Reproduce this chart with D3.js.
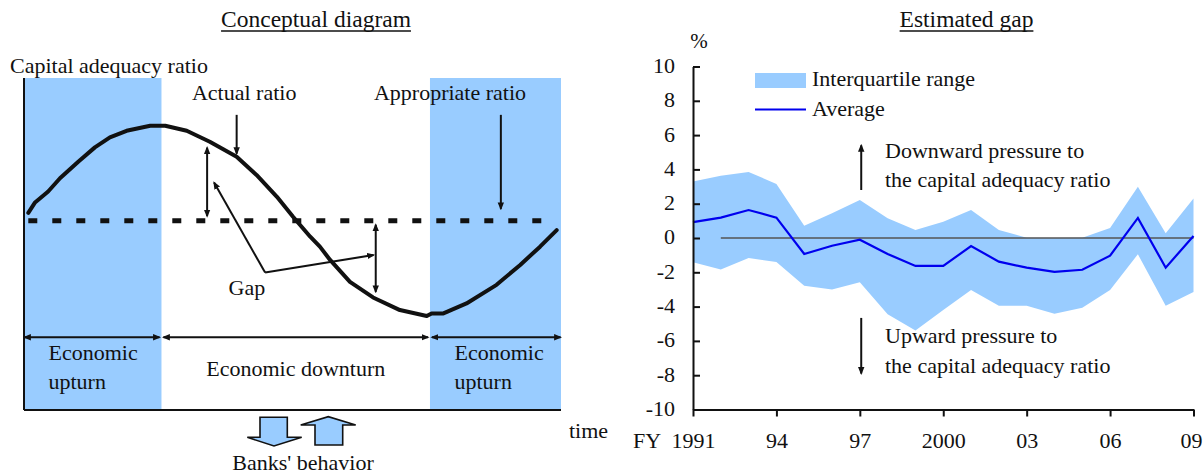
<!DOCTYPE html>
<html>
<head>
<meta charset="utf-8">
<script src="https://cdn.jsdelivr.net/npm/d3@7"></script>
<style>
  body { margin: 0; background: #fff; }
  svg { display: block; font-family: "Liberation Serif", "Times New Roman", serif; }
  text { fill: #111; }
</style>
</head>
<body>
<svg id="chart" width="1203" height="475"></svg>
<script>
// ---------- Conceptual diagram (schematic units: time 0–100, ratio 0–100) ----------
const cycleTime   = [0.8, 2.0, 4.5, 6.7, 10.1, 13.2, 16.0, 19.1, 23.5, 26.3, 30.3, 34.6, 39.6, 43.3, 47.1,
                     50.1, 53.3, 55.1, 57.0, 60.7, 65.0, 70.0, 75.0, 75.9, 78.1, 82.4, 88.0, 92.4, 96.1, 99.2];
const actualRatio = [59.4, 62.4, 65.8, 69.8, 74.8, 79.1, 82.1, 84.1, 85.6, 85.6, 84.1, 80.8, 76.3, 70.8, 64.2,
                     58.2, 52.2, 49.2, 45.2, 38.6, 33.9, 30.1, 28.3, 29.1, 29.1, 32.1, 37.7, 43.7, 49.2, 54.2];
const appropriateRatio = 57;
const phaseStart  = [0, 25.6, 75.6];
const phaseEnd    = [25.6, 75.6, 100];
const phaseShaded = [true, false, true];
const phaseLabels = [["Economic", "upturn"], ["Economic downturn"], ["Economic", "upturn"]];

// ---------- Estimated gap (%) ----------
const fiscalYears   = d3.range(1991, 2010);
const upperQuartile = [3.30, 3.63, 3.85, 3.15, 0.72, 1.44, 2.22, 1.15, 0.47, 0.95,
                       1.63, 0.47, 0.02, 0.00, 0.02, 0.58, 2.99, 0.27, 2.31];
const averageGap    = [0.93, 1.19, 1.63, 1.19, -0.93, -0.45, -0.10, -0.93, -1.63, -1.63,
                       -0.47, -1.38, -1.73, -1.98, -1.85, -1.03, 1.17, -1.73, 0.12];
const lowerQuartile = [-1.42, -1.83, -1.17, -1.40, -2.78, -3.01, -2.58, -4.45, -5.40, -4.20,
                       -3.03, -3.95, -3.95, -4.41, -4.06, -3.03, -0.95, -3.95, -3.15];
const yTickValues   = [10, 8, 6, 4, 2, 0, -2, -4, -6, -8, -10];
const xTickYears    = [1991, 1994, 1997, 2000, 2003, 2006, 2009];
const xTickLabels   = ["1991", "94", "97", "2000", "03", "06", "09"];

const BLUE_FILL = "#99ccff";
const svg = d3.select("#chart");

// arrowhead marker shared by all thin arrows
svg.append("defs").append("marker")
  .attr("id", "head")
  .attr("viewBox", "0 0 10 8")
  .attr("refX", 8).attr("refY", 4)
  .attr("markerWidth", 8).attr("markerHeight", 7)
  .attr("markerUnits", "userSpaceOnUse")
  .attr("orient", "auto-start-reverse")
  .append("path").attr("d", "M0,0 L10,4 L0,8 Z").attr("fill", "#111");

function underlinedTitle(x, y, txt) {
  const t = svg.append("text").attr("x", x).attr("y", y)
    .attr("text-anchor", "middle").attr("font-size", 23.5).text(txt);
  const w = t.node().getComputedTextLength();
  svg.append("line").attr("x1", x - w / 2).attr("x2", x + w / 2)
    .attr("y1", y + 4).attr("y2", y + 4)
    .attr("stroke", "#111").attr("stroke-width", 1.6);
}

// ======================= Left panel =======================
const tx = d3.scaleLinear().domain([0, 100]).range([24, 561]);
const ry = d3.scaleLinear().domain([0, 100]).range([410, 78]);
const L = svg.append("g");

underlinedTitle(316, 27, "Conceptual diagram");

// shaded upturn periods
phaseStart.forEach((s, i) => {
  if (!phaseShaded[i]) return;
  L.append("rect").attr("x", tx(s)).attr("y", ry(100))
    .attr("width", tx(phaseEnd[i]) - tx(s)).attr("height", ry(0) - ry(100))
    .attr("fill", BLUE_FILL);
});

// axes of the schematic
L.append("line").attr("x1", tx(0)).attr("x2", tx(0)).attr("y1", ry(100)).attr("y2", ry(0))
  .attr("stroke", "#111").attr("stroke-width", 2);
L.append("line").attr("x1", tx(0)).attr("x2", tx(100)).attr("y1", ry(0)).attr("y2", ry(0))
  .attr("stroke", "#111").attr("stroke-width", 2);

L.append("text").attr("x", 10).attr("y", 73).attr("font-size", 22).text("Capital adequacy ratio");

// appropriate ratio (dashed)
L.append("line").attr("x1", tx(0.8)).attr("x2", tx(96.5))
  .attr("y1", ry(appropriateRatio)).attr("y2", ry(appropriateRatio))
  .attr("stroke", "#111").attr("stroke-width", 5).attr("stroke-dasharray", "9,15");

// actual ratio curve
const cycle = cycleTime.map((t, i) => [t, actualRatio[i]]);
L.append("path").datum(cycle)
  .attr("d", d3.line().x(d => tx(d[0])).y(d => ry(d[1])))
  .attr("fill", "none").attr("stroke", "#111").attr("stroke-width", 4)
  .attr("stroke-linejoin", "round").attr("stroke-linecap", "round");

function arrow(g, x1, y1, x2, y2, both) {
  const l = g.append("line").attr("x1", x1).attr("y1", y1).attr("x2", x2).attr("y2", y2)
    .attr("stroke", "#111").attr("stroke-width", 2).attr("marker-end", "url(#head)");
  if (both) l.attr("marker-start", "url(#head)");
  return l;
}

// labels with pointer arrows
L.append("text").attr("x", tx(41)).attr("y", 100).attr("text-anchor", "middle")
  .attr("font-size", 22).text("Actual ratio");
arrow(L, tx(39.6), ry(88.9), tx(39.6), ry(77.2));
L.append("text").attr("x", 450).attr("y", 100).attr("text-anchor", "middle")
  .attr("font-size", 22).text("Appropriate ratio");
arrow(L, tx(88.8), ry(88.9), tx(88.8), ry(appropriateRatio + 3.6));

// gap measures
arrow(L, tx(34.1), ry(79.0), tx(34.1), ry(appropriateRatio + 1.4), true);
arrow(L, tx(65.5), ry(appropriateRatio - 1.2), tx(65.5), ry(35.6), true);
const gapVertex = [44.9, 41.4];
L.append("line").attr("x1", tx(gapVertex[0])).attr("y1", ry(gapVertex[1]))
  .attr("x2", tx(35.4)).attr("y2", ry(68.5))
  .attr("stroke", "#111").attr("stroke-width", 2).attr("marker-end", "url(#head)");
L.append("line").attr("x1", tx(gapVertex[0])).attr("y1", ry(gapVertex[1]))
  .attr("x2", tx(65.1)).attr("y2", ry(46.7))
  .attr("stroke", "#111").attr("stroke-width", 2).attr("marker-end", "url(#head)");
L.append("text").attr("x", tx(41.5)).attr("y", 295).attr("text-anchor", "middle")
  .attr("font-size", 22).text("Gap");

// business-cycle phases
const phaseY = ry(21.9);
phaseStart.forEach((s, i) => {
  arrow(L, tx(s) + (i === 0 ? 0.5 : 2), phaseY, tx(phaseEnd[i]) - (i === 2 ? 0.5 : 2), phaseY, true);
  const lines = phaseLabels[i];
  if (lines.length === 1) {
    L.append("text").attr("x", (tx(s) + tx(phaseEnd[i])) / 2).attr("y", 376)
      .attr("text-anchor", "middle").attr("font-size", 22).text(lines[0]);
  } else {
    lines.forEach((ln, j) => {
      L.append("text").attr("x", tx(s) + 24.5).attr("y", 360 + j * 29)
        .attr("font-size", 22).text(ln);
    });
  }
});

L.append("text").attr("x", 569).attr("y", 438).attr("font-size", 22).text("time");

// banks' behaviour: block arrows (down and up)
const downBlock = [[260, 417.3], [287.3, 417.3], [287.3, 437.3], [301.7, 437.3], [274, 446],
                   [247.3, 437.3], [260, 437.3]];
const upBlock   = [[315, 445], [342.7, 445], [342.7, 425], [355.7, 425], [328.3, 416.7],
                   [300.7, 425], [315, 425]];
[downBlock, upBlock].forEach(pts => {
  L.append("polygon").attr("points", pts.map(p => p.join(",")).join(" "))
    .attr("fill", BLUE_FILL).attr("stroke", "#111").attr("stroke-width", 1.6)
    .attr("stroke-linejoin", "miter");
});
L.append("text").attr("x", 303).attr("y", 470).attr("text-anchor", "middle")
  .attr("font-size", 22).text("Banks' behavior");

// ======================= Right panel =======================
const x = d3.scaleLinear().domain([1991, 2009]).range([693, 1193.5]);
const y = d3.scaleLinear().domain([-10, 10]).range([409.5, 66.5]);
const R = svg.append("g");

underlinedTitle(966.5, 27, "Estimated gap");
R.append("text").attr("x", 699).attr("y", 48).attr("text-anchor", "middle")
  .attr("font-size", 21).text("%");

const rows = fiscalYears.map((yr, i) => ({ yr, lo: lowerQuartile[i], hi: upperQuartile[i], avg: averageGap[i] }));

R.append("path").datum(rows)
  .attr("d", d3.area().x(d => x(d.yr)).y0(d => y(d.lo)).y1(d => y(d.hi)))
  .attr("fill", BLUE_FILL);

R.append("line").attr("x1", x(1992)).attr("x2", x(2009)).attr("y1", y(0)).attr("y2", y(0))
  .attr("stroke", "#555").attr("stroke-width", 1.6);

R.append("path").datum(rows)
  .attr("d", d3.line().x(d => x(d.yr)).y(d => y(d.avg)))
  .attr("fill", "none").attr("stroke", "#0000ee").attr("stroke-width", 2.2)
  .attr("stroke-linejoin", "miter");

// axes (plain hyphen for negative tick labels)
const yAxis = R.append("g").attr("transform", `translate(${x(1991)},0)`)
  .call(d3.axisLeft(y).tickValues(yTickValues).tickSize(-7).tickSizeOuter(0).tickPadding(18)
    .tickFormat(d => String(d)));
const xAxis = R.append("g").attr("transform", `translate(0,${y(-10)})`)
  .call(d3.axisBottom(x).tickValues(xTickYears).tickSize(7).tickSizeOuter(0).tickPadding(16)
    .tickFormat((d, i) => xTickLabels[i]));
[yAxis, xAxis].forEach(a => {
  a.attr("font-family", null).attr("font-size", null);
  a.selectAll("path, line").attr("stroke", "#111").attr("stroke-width", 2);
  a.selectAll("text").attr("font-size", 22).attr("fill", "#111");
});
yAxis.selectAll("text").attr("dy", "0.27em");
// keep the last year label inside the page edge
xAxis.selectAll(".tick text").filter(d => d === 2009).attr("dx", -2.5);
R.append("text").attr("x", 633).attr("y", 448).attr("font-size", 22).text("FY");

// legend
R.append("rect").attr("x", 755).attr("y", 73).attr("width", 51).attr("height", 15).attr("fill", BLUE_FILL);
R.append("text").attr("x", 812).attr("y", 86).attr("font-size", 22).text("Interquartile range");
R.append("line").attr("x1", 755).attr("x2", 806).attr("y1", 109.5).attr("y2", 109.5)
  .attr("stroke", "#0000ee").attr("stroke-width", 2);
R.append("text").attr("x", 812).attr("y", 116).attr("font-size", 22).text("Average");

// pressure annotations
arrow(R, x(1997.05), y(2.8), x(1997.05), y(5.4));
R.append("text").attr("x", 885).attr("y", 158).attr("font-size", 22).text("Downward pressure to");
R.append("text").attr("x", 885).attr("y", 187).attr("font-size", 22).text("the capital adequacy ratio");
arrow(R, x(1997.05), y(-4.66), x(1997.05), y(-7.9));
R.append("text").attr("x", 885).attr("y", 343).attr("font-size", 22).text("Upward pressure to");
R.append("text").attr("x", 885).attr("y", 372.5).attr("font-size", 22).text("the capital adequacy ratio");
</script>
</body>
</html>
